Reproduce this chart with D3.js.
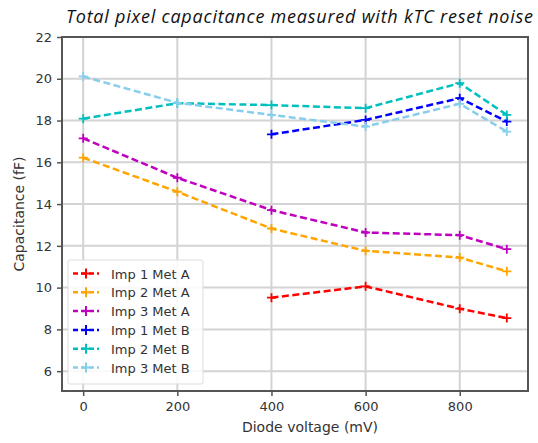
<!DOCTYPE html>
<html>
<head>
<meta charset="utf-8">
<script src="https://cdn.jsdelivr.net/npm/d3@7"></script>
<style>
  body { margin: 0; background: #fff; }
  svg { display: block; }
</style>
</head>
<body>
<svg id="chart" width="538" height="443"></svg>
<script>
'use strict';

/******************** data ********************/

var voltages = [0, 200, 400, 600, 800, 900];
var seriesNames = ["Imp 1 Met A", "Imp 2 Met A", "Imp 3 Met A", "Imp 1 Met B", "Imp 2 Met B", "Imp 3 Met B"];
var seriesColors = ["#ff0000", "#ffa500", "#bf00bf", "#0000ff", "#00bfbf", "#87ceeb"];

var imp1MetA = [null, null, 9.52, 10.06, 8.99, 8.54];
var imp2MetA = [16.22, 14.59, 12.83, 11.76, 11.44, 10.78];
var imp3MetA = [17.15, 15.26, 13.71, 12.64, 12.51, 11.84];
var imp1MetB = [null, null, 17.34, 18.03, 19.07, 17.95];
var imp2MetB = [18.09, 18.83, 18.74, 18.59, 19.79, 18.27];
var imp3MetB = [20.11, 18.85, 18.27, 17.71, 18.80, 17.47];

var xTicks = [0, 200, 400, 600, 800];
var yTicks = [6, 8, 10, 12, 14, 16, 18, 20, 22];

var allSeries = [imp1MetA, imp2MetA, imp3MetA, imp1MetB, imp2MetB, imp3MetB];

/************************ layout ************************/

var plotLeft = 62, plotTop = 37, plotRight = 528, plotBottom = 391;

var svg = d3.select("#chart");

var x = d3.scaleLinear().domain([-45, 945]).range([plotLeft, plotRight]);
var y = d3.scaleLinear().domain([5.05, 22]).range([plotBottom, plotTop]);

/************************ grid ************************/

var grid = svg.append("g").attr("class", "grid");
grid.selectAll("line.gx").data(xTicks).enter().append("line")
  .attr("x1", function(d) { return x(d); }).attr("x2", function(d) { return x(d); })
  .attr("y1", plotTop).attr("y2", plotBottom)
  .style("stroke", "#d3d3d3").style("stroke-width", 2);
grid.selectAll("line.gy").data(yTicks).enter().append("line")
  .attr("x1", plotLeft).attr("x2", plotRight)
  .attr("y1", function(d) { return y(d); }).attr("y2", function(d) { return y(d); })
  .style("stroke", "#d3d3d3").style("stroke-width", 2);

/************************ series ************************/

var line = d3.line()
  .defined(function(d) { return d[1] !== null; })
  .x(function(d) { return x(d[0]); })
  .y(function(d) { return y(d[1]); });

allSeries.forEach(function(values, i) {
  var pts = voltages.map(function(v, j) { return [v, values[j]]; });
  var g = svg.append("g").attr("class", "series");
  g.append("path")
    .attr("d", line(pts))
    .style("fill", "none")
    .style("stroke", seriesColors[i])
    .style("stroke-width", 2.5)
    .style("stroke-dasharray", "7,3.5");
  var marks = pts.filter(function(d) { return d[1] !== null; });
  g.selectAll("path.mk").data(marks).enter().append("path")
    .attr("d", function(d) {
      var cx = x(d[0]), cy = y(d[1]);
      return "M" + (cx - 4.5) + "," + cy + "H" + (cx + 4.5) + "M" + cx + "," + (cy - 4.5) + "V" + (cy + 4.5);
    })
    .style("stroke", seriesColors[i])
    .style("stroke-width", 1.8);
});

/************************ axes ************************/

var axisColor = "#555";
var textColor = "#333";
var tickFont = "'DejaVu Sans', sans-serif";

var xAxis = svg.append("g")
  .attr("transform", "translate(0," + plotBottom + ")")
  .call(d3.axisBottom(x).tickValues(xTicks).tickSize(5).tickPadding(6).tickFormat(d3.format("d")));
var yAxis = svg.append("g")
  .attr("transform", "translate(" + plotLeft + ",0)")
  .call(d3.axisLeft(y).tickValues(yTicks).tickSize(5).tickPadding(5).tickFormat(d3.format("d")));

[xAxis, yAxis].forEach(function(a) {
  a.select(".domain").remove();
  a.selectAll(".tick line").style("stroke", axisColor).style("stroke-width", 1.5);
  a.selectAll(".tick text").style("fill", textColor)
    .style("font-family", tickFont).style("font-size", "13px");
});

// frame
svg.append("rect")
  .attr("x", plotLeft).attr("y", plotTop)
  .attr("width", plotRight - plotLeft).attr("height", plotBottom - plotTop)
  .style("fill", "none").style("stroke", axisColor).style("stroke-width", 2);

svg.append("text")
  .attr("x", 310).attr("y", 432)
  .attr("text-anchor", "middle")
  .style("font-family", tickFont).style("font-size", "14px").style("fill", textColor)
  .text("Diode voltage (mV)");

svg.append("text")
  .attr("transform", "translate(24," + ((plotTop + plotBottom) / 2) + ") rotate(-90)")
  .attr("text-anchor", "middle")
  .style("font-family", tickFont).style("font-size", "14px").style("fill", textColor)
  .text("Capacitance (fF)");

/************************ title ************************/

svg.append("text")
  .attr("x", 66).attr("y", 23)
  .attr("textLength", 467).attr("lengthAdjust", "spacing")
  .style("font-family", "'Open Sans', sans-serif")
  .style("font-style", "italic")
  .style("font-size", "18px")
  .style("fill", "#111")
  .text("Total pixel capacitance measured with kTC reset noise");

/************************ legend ************************/

var legend = svg.append("g").attr("transform", "translate(68,260)");
legend.append("rect")
  .attr("width", 135).attr("height", 124).attr("rx", 2)
  .style("fill", "#fff").style("fill-opacity", 0.85)
  .style("stroke", "#ddd").style("stroke-width", 1);

var rows = legend.selectAll("g.row").data(seriesNames).enter().append("g")
  .attr("transform", function(d, i) { return "translate(0," + (13.5 + i * 18.8) + ")"; });
rows.append("line")
  .attr("x1", 5).attr("x2", 31).attr("y1", 0).attr("y2", 0)
  .style("stroke", function(d, i) { return seriesColors[i]; })
  .style("stroke-width", 2.5).style("stroke-dasharray", "5,3");
rows.append("path")
  .attr("d", "M13,0H23M18,-5V5")
  .style("stroke", function(d, i) { return seriesColors[i]; })
  .style("stroke-width", 2);
rows.append("text")
  .attr("x", 43).attr("y", 5)
  .style("font-family", tickFont).style("font-size", "13px").style("fill", textColor)
  .text(function(d) { return d; });
</script>
</body>
</html>
